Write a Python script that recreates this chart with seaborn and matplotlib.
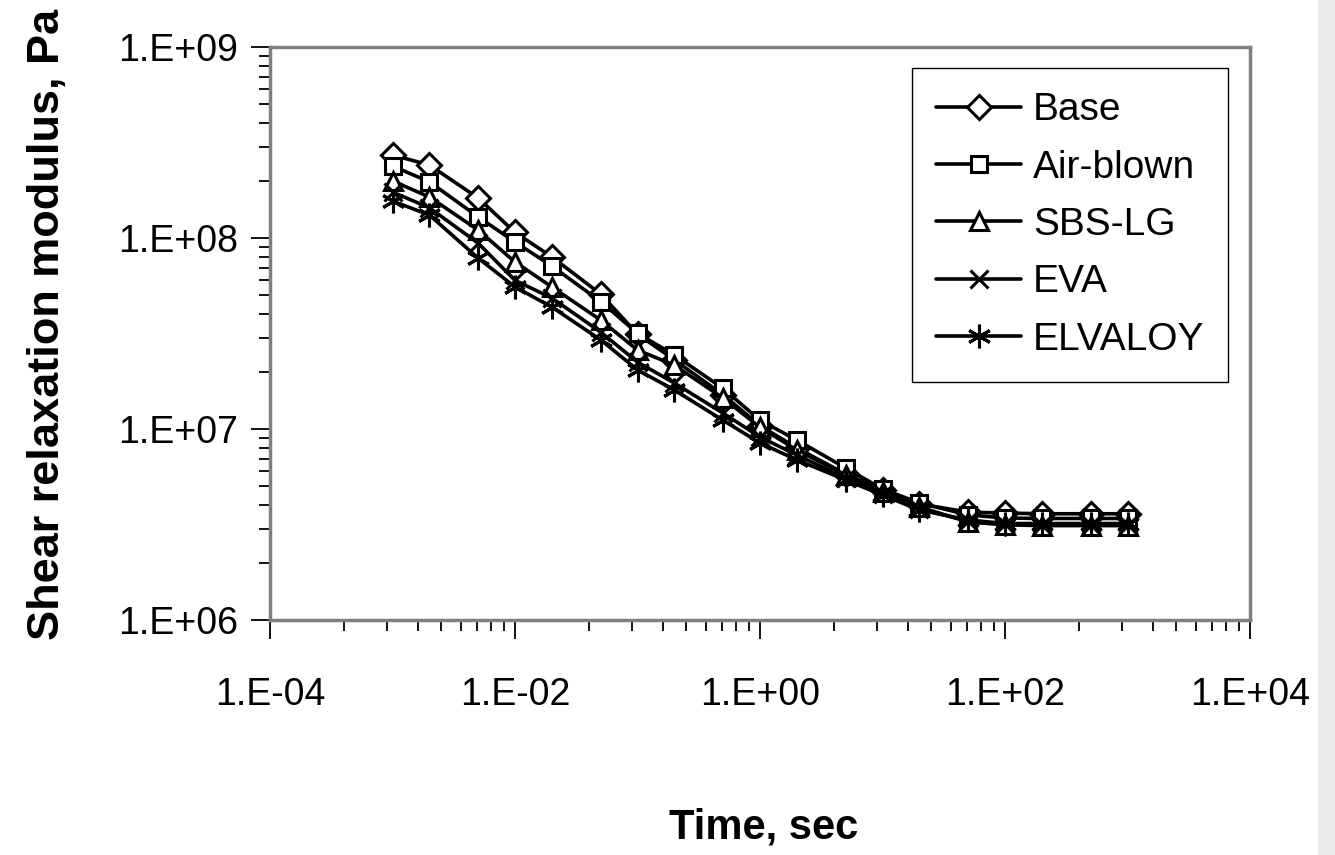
import numpy as np
import matplotlib
matplotlib.use("Agg")
import matplotlib.pyplot as plt
import matplotlib.ticker as mticker
from matplotlib.patches import Rectangle
import seaborn as sns

# time, sec
time_s = [1e-3, 2e-3, 5e-3, 1e-2, 2e-2, 5e-2, 0.1, 0.2, 0.5, 1, 2, 5,
          10, 20, 50, 100, 200, 500, 1000]

# shear relaxation modulus, Pa
base = [2.72e8, 2.41e8, 1.62e8, 1.07e8, 7.96e7, 5.09e7, 3.14e7, 2.30e7, 1.51e7,
        1.04e7, 7.96e6, 5.81e6, 4.80e6, 4.05e6, 3.67e6, 3.63e6, 3.60e6, 3.60e6, 3.60e6]
air_blown = [2.38e8, 1.97e8, 1.29e8, 9.53e7, 7.13e7, 4.65e7, 3.17e7, 2.44e7, 1.63e7,
             1.11e7, 8.75e6, 6.25e6, 4.85e6, 4.10e6, 3.55e6, 3.42e6, 3.40e6, 3.40e6, 3.40e6]
sbs_lg = [1.99e8, 1.64e8, 1.10e8, 7.49e7, 5.54e7, 3.72e7, 2.59e7, 2.16e7, 1.45e7,
          1.02e7, 7.76e6, 5.74e6, 4.68e6, 3.91e6, 3.26e6, 3.15e6, 3.12e6, 3.12e6, 3.12e6]
eva = [1.74e8, 1.44e8, 9.40e7, 6.00e7, 4.85e7, 3.22e7, 2.24e7, 1.74e7, 1.21e7,
       9.08e6, 7.31e6, 5.53e6, 4.57e6, 3.81e6, 3.30e6, 3.18e6, 3.16e6, 3.16e6, 3.16e6]
elvaloy = [1.56e8, 1.32e8, 7.85e7, 5.54e7, 4.35e7, 2.93e7, 2.04e7, 1.60e7, 1.11e7,
           8.45e6, 6.89e6, 5.41e6, 4.51e6, 3.77e6, 3.34e6, 3.20e6, 3.20e6, 3.20e6, 3.20e6]

series = [("Base", base, "D", 12),
          ("Air-blown", air_blown, "s", 11.5),
          ("SBS-LG", sbs_lg, "^", 13.5),
          ("EVA", eva, "x", 13),
          ("ELVALOY", elvaloy, (6, 2, 0), 17)]

sns.set_style("ticks")
plt.rcParams["font.family"] = ["Liberation Sans", "DejaVu Sans"]
plt.rcParams["text.color"] = "black"
plt.rcParams["axes.labelcolor"] = "black"
plt.rcParams["xtick.color"] = "black"
plt.rcParams["ytick.color"] = "black"

fig, ax = plt.subplots(figsize=(13.35, 8.55), dpi=100)
fig.subplots_adjust(left=270/1335, right=1250/1335, top=1-47/855, bottom=1-620/855)

for name, vals, mk, ms in series:
    sns.lineplot(x=time_s, y=vals, ax=ax, color="black", linewidth=2.6,
                 marker=mk, markersize=ms, markerfacecolor="white",
                 markeredgecolor="black", markeredgewidth=2.2, label=name)

ax.set_xscale("log")
ax.set_yscale("log")
ax.set_xlim(1e-4, 1e4)
ax.set_ylim(1e6, 1e9)

fmt = mticker.FuncFormatter(lambda v, p: "1.E%+03d" % int(round(np.log10(v))))
ax.xaxis.set_major_locator(mticker.FixedLocator([1e-4, 1e-2, 1, 1e2, 1e4]))
ax.xaxis.set_minor_locator(mticker.FixedLocator(
    [b * k ** 2 for b in [1e-4, 1e-2, 1, 1e2] for k in range(2, 10)]))
ax.yaxis.set_major_locator(mticker.FixedLocator([1e6, 1e7, 1e8, 1e9]))
ax.yaxis.set_minor_locator(mticker.LogLocator(base=10, subs=np.arange(2, 10)))
ax.xaxis.set_major_formatter(fmt)
ax.yaxis.set_major_formatter(fmt)
ax.xaxis.set_minor_formatter(mticker.NullFormatter())
ax.yaxis.set_minor_formatter(mticker.NullFormatter())

ax.tick_params(which="both", bottom=True, left=True, top=False, right=False)
ax.tick_params(which="major", direction="out", length=14, width=1.3,
               labelsize=27)
ax.tick_params(which="minor", direction="out", length=8, width=1.3)
ax.tick_params(axis="y", which="major", pad=9)
ax.tick_params(axis="x", which="major", pad=27)

for sp in ax.spines.values():
    sp.set_color("#808080")
    sp.set_linewidth(2.5)
    sp.set_visible(True)

ax.set_xlabel("Time, sec", fontsize=30, fontweight="bold")
ax.set_ylabel("Shear relaxation modulus, Pa", fontsize=32.5, fontweight="bold")
ax.xaxis.set_label_coords(0.504, -0.363)
ax.xaxis.label.set_va("center")
ax.yaxis.set_label_coords(-0.227, 0.515)
ax.yaxis.label.set_va("center")

leg = ax.legend(loc="upper right", bbox_to_anchor=(0.978, 0.963), borderaxespad=0,
                fontsize=28, frameon=True, fancybox=False, edgecolor="black",
                framealpha=1, handlelength=2.2, handletextpad=0.3,
                labelspacing=0.55, borderpad=0.62)
leg.get_frame().set_linewidth(1.0)

fig.patches.append(Rectangle((1318/1335, 0), 17/1335, 1, transform=fig.transFigure,
                             color="#ebebeb", zorder=0))

fig.savefig("out.png", dpi=100)
